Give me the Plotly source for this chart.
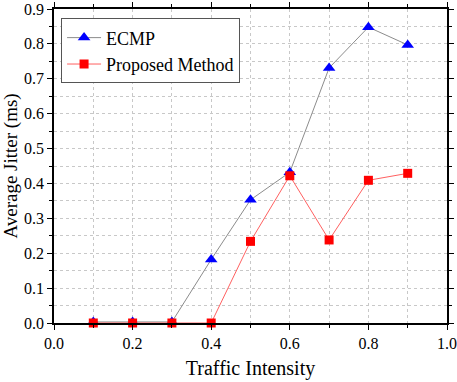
import plotly.graph_objects as go

x_vals = [0.1, 0.2, 0.3, 0.4, 0.5, 0.6, 0.7, 0.8, 0.9]
ecmp = [0.003, 0.003, 0.003, 0.182, 0.353, 0.432, 0.731, 0.848, 0.797]
proposed = [0.0, 0.0, 0.0, 0.0, 0.234, 0.422, 0.238, 0.409, 0.429]

font_family = "Liberation Serif"

fig = go.Figure()
fig.add_trace(go.Scatter(
    x=x_vals, y=ecmp, name="ECMP", mode="lines+markers",
    line=dict(color="#8c8c8c", width=1),
    marker=dict(symbol="triangle-up", color="#0000ff", size=11),
    cliponaxis=False,
))
fig.add_trace(go.Scatter(
    x=x_vals, y=proposed, name="Proposed Method", mode="lines+markers",
    line=dict(color="#ff6060", width=1),
    marker=dict(symbol="square", color="#ff0000", size=9),
    cliponaxis=False,
))

grid = dict(gridcolor="#c8c8c8", griddash="dot", gridwidth=1)

fig.update_layout(
    width=457, height=382,
    margin=dict(l=54, r=10, t=9, b=59),
    plot_bgcolor="white", paper_bgcolor="white",
    font=dict(family=font_family, color="black", size=16),
    showlegend=True,
    legend=dict(
        x=0.018, y=0.97, xanchor="left", yanchor="top",
        bordercolor="#555555", borderwidth=1, bgcolor="white",
        font=dict(size=18, family=font_family),
        itemwidth=34, tracegroupgap=0,
    ),
    xaxis=dict(
        range=[0, 1.0], dtick=0.2, tick0=0, tickformat=".1f",
        showline=True, linecolor="black", linewidth=1.5, mirror="allticks",
        ticks="outside", ticklen=5, tickcolor="black", tickwidth=1,
        showgrid=True, **grid, automargin=False, ticklabeloverflow="allow",
        minor=dict(dtick=0.1, ticks="outside", ticklen=3, tickcolor="black", showgrid=True,
                   gridcolor="#c8c8c8", griddash="dot", gridwidth=1),
        title=dict(text="Traffic Intensity", font=dict(size=20, family=font_family), standoff=10),
        tickfont=dict(size=16, family=font_family),
        zeroline=False,
    ),
    yaxis=dict(
        range=[0, 0.9], dtick=0.1, tick0=0, tickformat=".1f",
        showline=True, linecolor="black", linewidth=1.5, mirror="allticks",
        ticks="outside", ticklen=5, tickcolor="black", tickwidth=1,
        showgrid=True, **grid, automargin=False, ticklabeloverflow="allow",
        minor=dict(dtick=0.05, ticks="outside", ticklen=3, tickcolor="black", showgrid=True,
                   gridcolor="#c8c8c8", griddash="dot", gridwidth=1),
        title=dict(text="Average Jitter (ms)", font=dict(size=19, family=font_family), standoff=6),
        tickfont=dict(size=16, family=font_family),
        zeroline=False,
    ),
)

fig.write_html("out.html", config={"displayModeBar": False},
               post_script="document.body.style.margin='0';document.body.style.padding='0';")
